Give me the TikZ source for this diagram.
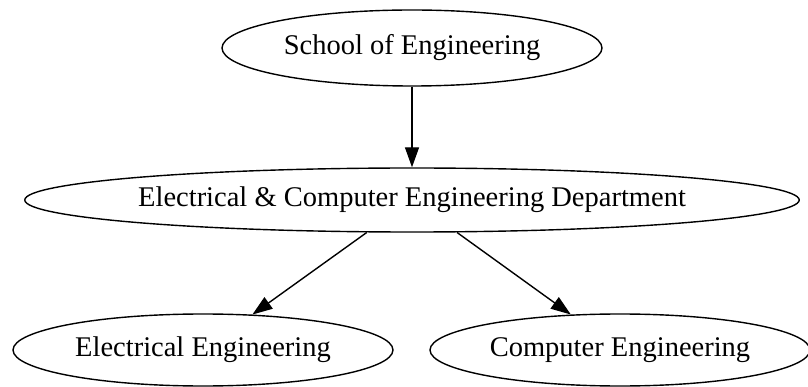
\documentclass[tikz,border=0pt]{standalone}
\usepackage{fontspec}
\setmainfont{Liberation Serif}
\usepackage{tikz}
\usetikzlibrary{arrows.meta,shapes.geometric}

\begin{document}
\begin{tikzpicture}[x=1pt, y=-1pt,
		unit/.style={draw, ellipse, line width=1.4pt, inner sep=0pt,
			font=\fontsize{28.5}{34}\selectfont},
		link/.style={line width=1.4pt, -{Triangle[length=20pt,width=14pt]}}]

		% === figure bounds ===
		\useasboundingbox (0,0) rectangle (808,387);

		% === Nodes ===
		\node[unit, minimum width=380pt, minimum height=76pt] (school) at (412,48) {School of Engineering};
		\node[unit, minimum width=770pt, minimum height=64pt] (ece) at (412,200) {Electrical \& Computer Engineering Department};
		\node[unit, minimum width=380pt, minimum height=72pt] (ee) at (203,350) {Electrical Engineering};
		\node[unit, minimum width=380pt, minimum height=72pt] (ce) at (620,350) {Computer Engineering};

		% === Edges ===
		\draw[link] (school) -- (ece);
		\draw[link] (ece) -- (ee);
		\draw[link] (ece) -- (ce);
	\end{tikzpicture}
\end{document}
